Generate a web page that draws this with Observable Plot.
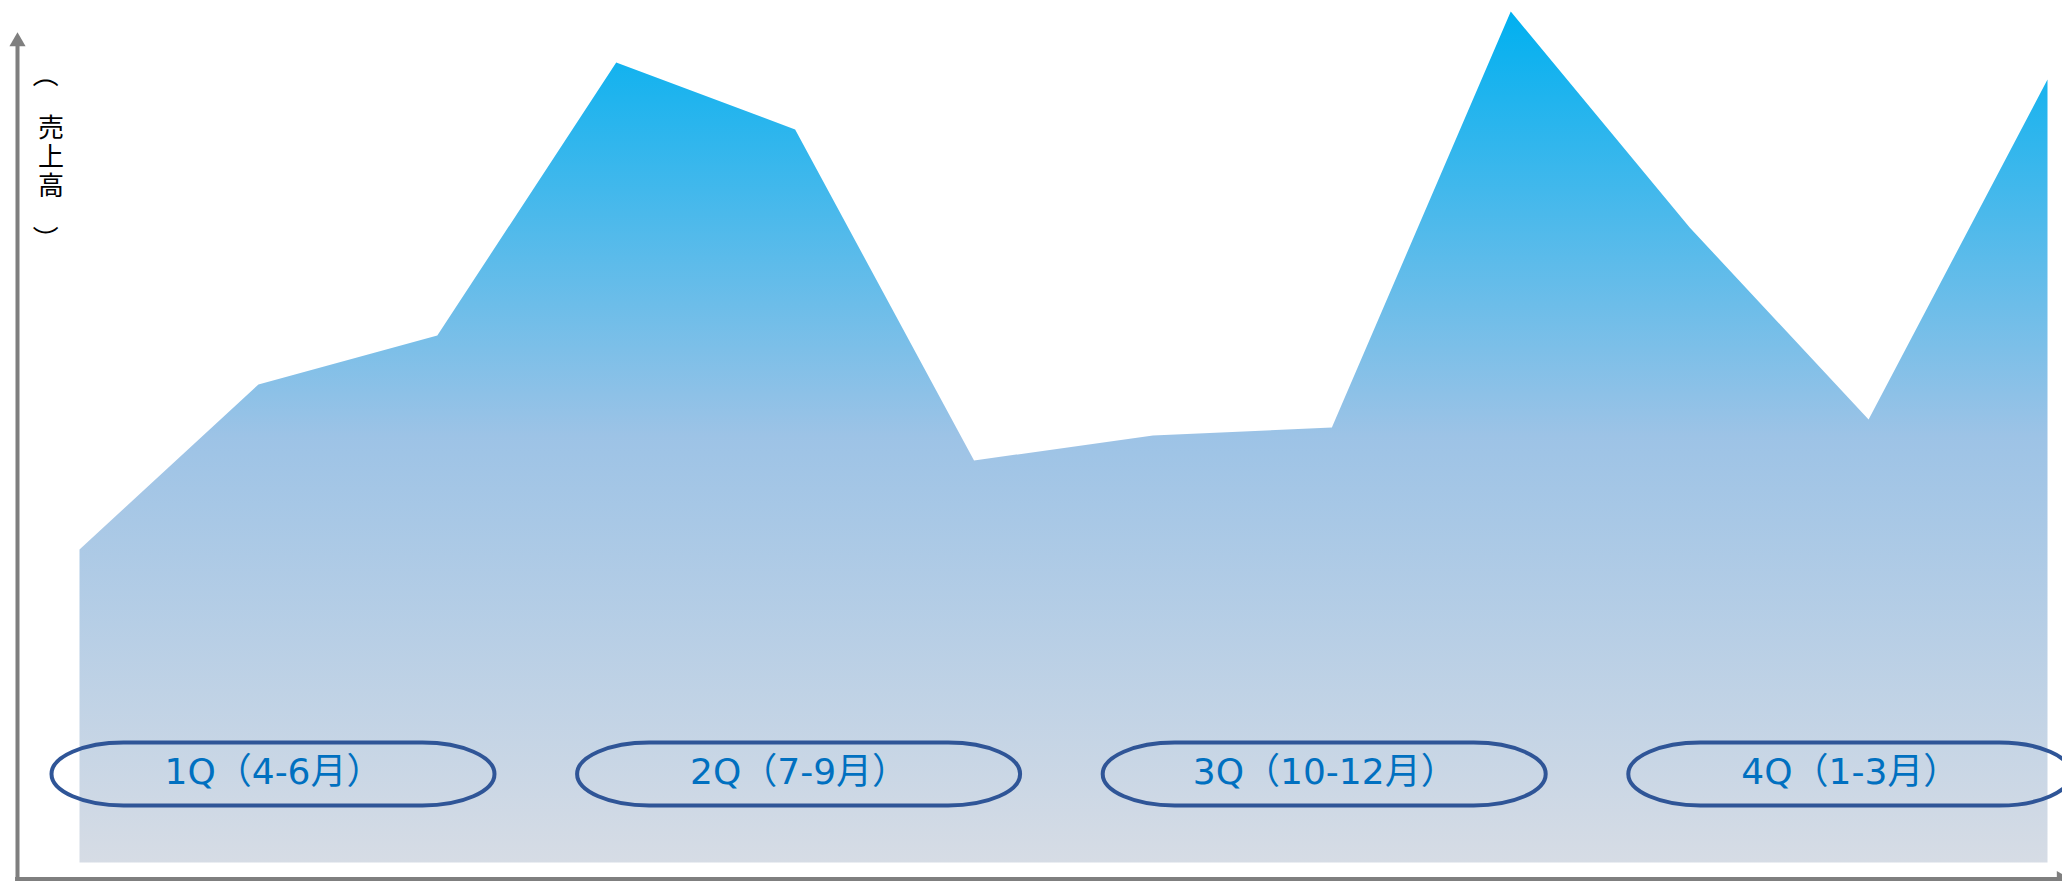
<!DOCTYPE html>
<html><head><meta charset="utf-8">
<script src="https://cdn.jsdelivr.net/npm/d3@7"></script>
<script src="https://cdn.jsdelivr.net/npm/@observablehq/plot@0.6"></script>
<style>html,body{margin:0;padding:0;background:#fff}#chart svg{display:block}</style>
</head><body><div id="chart"></div>
<script>
// ---- data ----
const months = ["4月","5月","6月","7月","8月","9月","10月","11月","12月","1月","2月","3月"];
const sales = [313, 478, 527, 800, 733, 402, 427, 435, 851, 635, 443, 783];
const quarters = ["1Q（4-6月）", "2Q（7-9月）", "3Q（10-12月）", "4Q（1-3月）"];
const yLabel = "売上高";
const yParens = ["（", "）"];

// ---- layout ----
const W = 2062, H = 881;
const left = 79.5, right = 2047.5;
const step = (right - left) / (months.length - 1);
const xDomain = [-left / step, months.length - 1 + (W - right) / step];
const base = 862.5;
const yDomain = [base - H, base];
const px = p => (p - left) / step;      // pixel -> month units (layout helper)
const py = p => base - p;               // pixel -> value units (layout helper)

const monthData = months.map((m, i) => ({month: m, i, value: sales[i]}));
const qData = quarters.map((label, i) => ({label, c: px(273) + i * 525.6 / step}));
const qHalf = 221.5 / step;
const axisX = px(17), axisY = py(878.5);
const gray = "#7F7F7F";

const gradient = () => {
  const defs = d3.create("svg:defs");
  const g = defs.append("linearGradient").attr("id", "salesGrad")
    .attr("x1", 0).attr("y1", 0).attr("x2", 0).attr("y2", 1);
  g.append("stop").attr("offset", "0%").attr("stop-color", "#00B0F0");
  g.append("stop").attr("offset", "50%").attr("stop-color", "#9DC3E6");
  g.append("stop").attr("offset", "100%").attr("stop-color", "#D6DCE5");
  return defs.node();
};

const chart = Plot.plot({
  width: W, height: H, margin: 0,
  style: {fontFamily: "'Noto Sans CJK JP', sans-serif", background: "#fff", overflow: "hidden"},
  x: {type: "linear", domain: xDomain, axis: null},
  y: {type: "linear", domain: yDomain, axis: null},
  marks: [
    gradient,
    Plot.areaY(monthData, {x: "i", y: "value", fill: "url(#salesGrad)"}),
    Plot.rect(qData, {
      x1: d => d.c - qHalf, x2: d => d.c + qHalf,
      y1: () => py(805.5), y2: () => py(742.5),
      rx: 72, ry: 31.5, fill: "none", stroke: "#2F5597", strokeWidth: 4
    }),
    Plot.text(qData, {
      x: "c", y: () => py(771.5), text: "label",
      fontSize: 36, fill: "#0070C0",
      fontFamily: "'DejaVu Sans', 'Noto Sans CJK JP', sans-serif"
    }),
    // axes
    Plot.ruleX([axisX], {x: d => d, y1: () => axisY, y2: () => py(46), stroke: gray, strokeWidth: 4}),
    Plot.ruleY([axisY], {y: d => d, x1: () => axisX - 0.011, x2: () => xDomain[1], stroke: gray, strokeWidth: 4}),
    Plot.dot([{x: axisX, y: py(41)}], {x: "x", y: "y", symbol: "triangle", r: 6, fill: gray, stroke: "none"}),
    Plot.dot([{x: px(2061), y: axisY}], {x: "x", y: "y", symbol: "triangle", r: 6, fill: gray, stroke: "none", rotate: 90}),
    // y label (vertical writing applied below)
    Plot.text([yLabel], {
      x: () => px(50.5), y: () => py(149), text: d => d,
      fontSize: 26, fill: "#000"
    }),
    Plot.text([yParens[0]], {x: () => px(44), y: () => py(74), text: d => d, rotate: 90, fontSize: 26, fill: "#000"}),
    Plot.text([yParens[1]], {x: () => px(44), y: () => py(238), text: d => d, rotate: 90, fontSize: 26, fill: "#000"})
  ]
});
d3.select(chart).selectAll("text")
  .filter(function() { return this.textContent === yLabel; })
  .attr("dy", null)
  .attr("letter-spacing", 3)
  .style("writing-mode", "vertical-rl");
document.getElementById("chart").appendChild(chart);
</script>
</body></html>
